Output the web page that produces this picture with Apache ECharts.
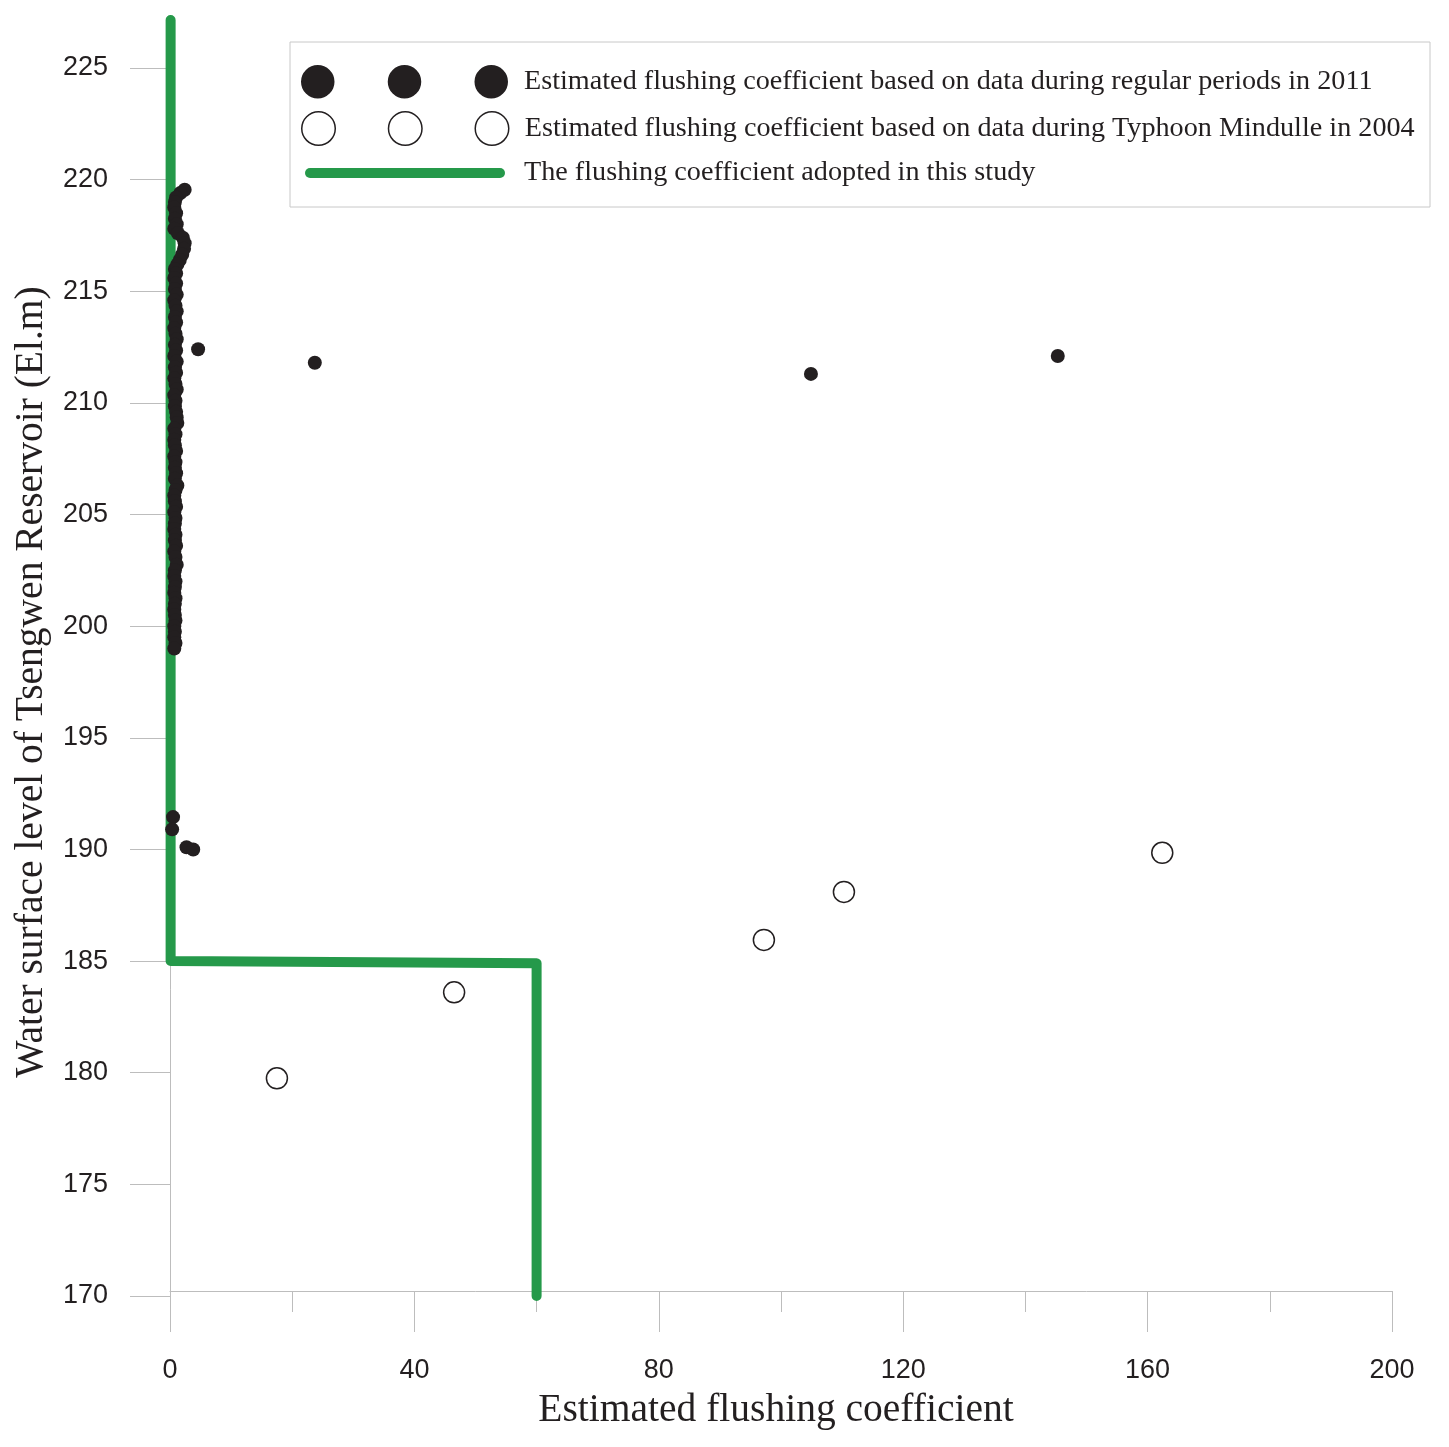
<!DOCTYPE html>
<html>
<head>
<meta charset="utf-8">
<title>Flushing coefficient</title>
<script src="https://cdn.jsdelivr.net/npm/echarts@6/dist/echarts.min.js"></script>
<style>
  html, body { margin: 0; padding: 0; background: #fff; }
  #chart { width: 1449px; height: 1447px; }
</style>
</head>
<body>
<div id="chart"></div>
<script>
// series names (legend text)
const nameRegular = 'Estimated flushing coefficient based on data during regular periods in 2011';
const nameTyphoon = 'Estimated flushing coefficient based on data during Typhoon Mindulle in 2004';
const nameAdopted = 'The flushing coefficient adopted in this study';

// [flushing coefficient, water level]
const regular2011 = [
  [2.4, 219.55], [1.7, 219.4], [1.0, 219.2], [0.8, 219.0], [0.7, 218.75], [1.0, 218.5],
  [0.8, 218.25], [1.1, 218.0], [0.7, 217.8], [1.3, 217.6], [2.1, 217.4], [2.4, 217.15],
  [2.3, 216.9], [2.0, 216.65], [1.6, 216.4], [1.2, 216.2], [0.8, 216.0], [1.0, 215.8],
  [0.7, 215.6], [1.0, 215.35], [0.8, 215.1], [1.1, 214.85], [0.7, 214.6], [0.9, 214.35],
  [1.1, 214.1], [0.8, 213.85], [1.0, 213.6], [0.7, 213.35], [0.9, 213.1], [1.1, 212.85],
  [0.8, 212.6], [1.0, 212.35], [0.7, 212.1], [1.1, 211.85], [0.8, 211.6], [1.0, 211.35],
  [0.7, 211.1], [0.9, 210.85], [1.1, 210.6], [0.7, 210.35], [0.9, 210.1], [0.8, 209.85],
  [1.0, 209.6], [1.1, 209.35], [1.2, 209.1], [0.7, 208.85], [0.9, 208.6], [0.7, 208.35],
  [0.8, 208.1], [1.0, 207.85], [0.7, 207.6], [0.9, 207.35], [0.8, 207.1], [1.0, 206.85],
  [0.8, 206.6], [1.2, 206.3], [0.9, 206.1], [0.7, 205.85], [0.8, 205.6], [1.0, 205.35],
  [0.7, 205.1], [0.9, 204.85], [0.8, 204.6], [0.7, 204.35], [0.9, 204.1], [0.8, 203.85],
  [1.0, 203.6], [0.7, 203.35], [0.9, 203.1], [1.1, 202.75], [0.8, 202.5], [0.7, 202.25],
  [0.9, 202.0], [0.8, 201.75], [0.7, 201.5], [0.9, 201.25], [0.8, 201.0], [0.7, 200.75],
  [0.8, 200.5], [0.9, 200.25], [0.7, 200.0], [0.8, 199.75], [0.7, 199.5], [0.9, 199.25],
  [0.7, 199.0],
  [4.6, 212.4], [23.7, 211.8], [104.9, 211.3], [145.3, 212.1],
  [0.5, 191.45], [0.35, 190.9], [2.7, 190.1], [3.8, 190.0]
];

const typhoon2004 = [
  [17.5, 179.75], [46.5, 183.6], [97.2, 185.95], [110.3, 188.1], [162.4, 189.85]
];

const adoptedLine = [
  [0.1, 227.15], [0.1, 185.0], [60, 184.9], [60, 170]
];

const xTicks = { min: 0, max: 200, interval: 40 };
const yTicks = { min: 170, max: 225, interval: 5 };

var myChart = echarts.init(document.getElementById('chart'));

const black = '#231f20';
const green = '#25994a';
const axisGray = '#bdbdbd';
const serif = '"Liberation Serif", "Times New Roman", serif';
const sans = '"Liberation Sans", Arial, sans-serif';

// three markers in a row for the legend icons
const threeDots = 'path://M0,17A17,17 0 1 1 34,17A17,17 0 1 1 0,17Z' +
  'M88,17A17,17 0 1 1 122,17A17,17 0 1 1 88,17Z' +
  'M176,17A17,17 0 1 1 210,17A17,17 0 1 1 176,17Z';
const fatLine = 'path://M5,0L195,0A5,5 0 0 1 195,10L5,10A5,5 0 0 1 5,0Z';

const legendText = { fontFamily: serif, fontSize: 28.2, color: black, padding: [0, 0, 0, 11] };

const option = {
  backgroundColor: '#fff',
  animation: false,
  grid: { left: 170, right: 57, top: 68, bottom: 151 },
  graphic: [
    {
      type: 'rect',
      z: 0,
      shape: { x: 290, y: 42, width: 1140, height: 165 },
      style: { fill: '#fff', stroke: '#c8c8c8', lineWidth: 1 }
    }
  ],
  legend: [
    {
      data: [nameRegular], left: 296, top: 60, icon: threeDots,
      itemWidth: 207, itemHeight: 36, selectedMode: false,
      itemStyle: { borderWidth: 0 }, textStyle: legendText
    },
    {
      data: [nameTyphoon], left: 296, top: 106, icon: threeDots,
      itemWidth: 207, itemHeight: 36, selectedMode: false,
      itemStyle: { borderWidth: 1.5, borderColor: black }, textStyle: legendText
    },
    {
      data: [nameAdopted], left: 300, top: 154, icon: fatLine,
      itemWidth: 200, itemHeight: 10, selectedMode: false,
      itemStyle: { borderWidth: 0 }, textStyle: Object.assign({}, legendText, { padding: [0, 0, 0, 14] })
    }
  ],
  xAxis: {
    type: 'value',
    min: xTicks.min,
    max: xTicks.max,
    interval: xTicks.interval,
    offset: -5,
    name: 'Estimated flushing coefficient',
    nameLocation: 'middle',
    nameGap: 100,
    nameTextStyle: { fontFamily: serif, fontSize: 39.5, color: black, padding: [0, 10, 0, 0] },
    axisLine: { show: true, lineStyle: { color: axisGray, width: 1 } },
    axisTick: { show: true, length: 41, lineStyle: { color: axisGray } },
    minorTick: { show: true, splitNumber: 2, length: 21, lineStyle: { color: axisGray } },
    axisLabel: { margin: 66, fontFamily: sans, fontSize: 27, color: black },
    splitLine: { show: false }
  },
  yAxis: {
    type: 'value',
    min: yTicks.min,
    max: yTicks.max,
    interval: yTicks.interval,
    name: 'Water surface level of Tsengwen Reservoir (El.m)',
    nameLocation: 'middle',
    nameGap: 117,
    nameTextStyle: { fontFamily: serif, fontSize: 39.5, color: black },
    axisLine: { show: true, lineStyle: { color: axisGray, width: 1 } },
    axisTick: { show: true, length: 40, lineStyle: { color: axisGray } },
    axisLabel: { margin: 62, fontFamily: sans, fontSize: 27, color: black },
    splitLine: { show: false }
  },
  series: [
    {
      name: nameAdopted,
      type: 'line',
      data: adoptedLine,
      clip: false,
      symbol: 'none',
      itemStyle: { color: green },
      lineStyle: { color: green, width: 10, cap: 'round', join: 'round' },
      z: 2
    },
    {
      name: nameRegular,
      type: 'scatter',
      data: regular2011,
      symbol: 'circle',
      symbolSize: 14,
      itemStyle: { color: black, opacity: 1 },
      z: 3
    },
    {
      name: nameTyphoon,
      type: 'scatter',
      data: typhoon2004,
      symbol: 'circle',
      symbolSize: 21,
      itemStyle: { color: '#fff', borderColor: black, borderWidth: 1.5, opacity: 1 },
      z: 3
    }
  ]
};

myChart.setOption(option);
</script>
</body>
</html>
